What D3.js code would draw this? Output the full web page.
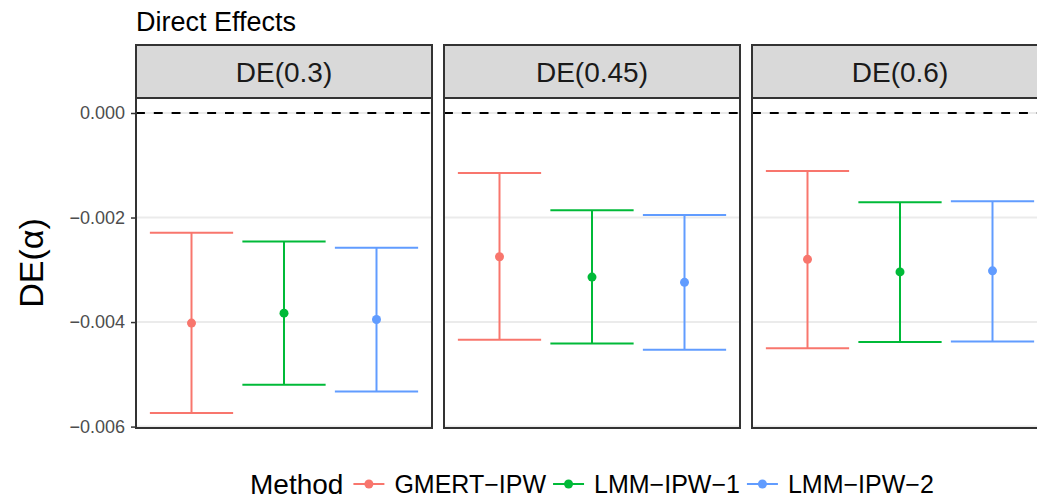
<!DOCTYPE html>
<html>
<head>
<meta charset="utf-8">
<script src="https://cdn.jsdelivr.net/npm/d3@7"></script>
<style>
  body { margin: 0; background: #fff; }
  svg { display: block; font-family: "Liberation Sans", Arial, sans-serif; }
</style>
</head>
<body>
<div id="chart"></div>
<script>
var panels = ["DE(0.3)", "DE(0.45)", "DE(0.6)"],
	methods = ["GMERT\u2212IPW", "LMM\u2212IPW\u22121", "LMM\u2212IPW\u22122"],
	colors = ["#F8766D", "#00BA38", "#619CFF"],
	estimates = [[-0.00402, -0.00383, -0.00395],
	             [-0.00275, -0.00314, -0.00324],
	             [-0.00280, -0.00304, -0.00302]],
	lower = [[-0.00574, -0.00520, -0.00533],
	         [-0.00434, -0.00441, -0.00453],
	         [-0.00450, -0.00438, -0.00437]],
	upper = [[-0.00229, -0.00246, -0.00258],
	         [-0.00115, -0.00186, -0.00195],
	         [-0.00111, -0.00171, -0.00169]],
	yTicks = [0, -0.002, -0.004, -0.006];

var W = 1037, H = 500,
	panelLeft = 136, panelW = 296, panelGap = 12,
	stripTop = 45, stripH = 53,
	panelTop = 98, panelBottom = 428;

var svg = d3.select('#chart').append('svg')
	.attr('width', W)
	.attr('height', H)
	.style('overflow', 'hidden');

svg.append('rect').attr('width', W).attr('height', H).attr('fill', '#fff');

// y scale with ggplot-like 5% expansion, zero line included
var allVals = d3.merge(lower).concat(d3.merge(upper)).concat([0]),
	ext = d3.extent(allVals),
	pad = (ext[1] - ext[0]) * 0.05;

var y = d3.scaleLinear()
	.domain([ext[0] - pad, ext[1] + pad])
	.range([panelBottom, panelTop]);

var x = d3.scaleBand()
	.domain(methods)
	.range([0, panelW])
	.paddingOuter(0.1)
	.paddingInner(0);

var capW = x.bandwidth() * 0.9;
var fmt = d3.format('.3f');

// title
svg.append('text')
	.attr('x', panelLeft)
	.attr('y', 31)
	.attr('font-size', 27)
	.attr('fill', '#000')
	.text('Direct Effects');

// y axis title
svg.append('text')
	.attr('transform', 'translate(43,' + ((panelTop + panelBottom) / 2) + ') rotate(-90)')
	.attr('text-anchor', 'middle')
	.attr('font-size', 34)
	.attr('fill', '#000')
	.text('DE(\u03B1)');

// y axis ticks (left of first panel)
var yAxis = d3.axisLeft(y)
	.tickValues(yTicks)
	.tickSize(5)
	.tickPadding(6)
	.tickFormat(function(d) { return fmt(d); });

var ax = svg.append('g')
	.attr('transform', 'translate(' + panelLeft + ',0)')
	.call(yAxis);
ax.select('.domain').remove();
ax.selectAll('.tick line').attr('stroke', '#333333').attr('stroke-width', 1.5);
ax.selectAll('.tick text')
	.attr('fill', '#4d4d4d')
	.attr('font-size', 18)
	.attr('font-family', '"Liberation Sans", Arial, sans-serif');

panels.forEach(function(p, i) {
	var px = panelLeft + i * (panelW + panelGap);
	var g = svg.append('g').attr('transform', 'translate(' + px + ',0)');

	// strip
	g.append('rect')
		.attr('x', 0).attr('y', stripTop)
		.attr('width', panelW).attr('height', stripH)
		.attr('fill', '#d9d9d9')
		.attr('stroke', '#333333')
		.attr('stroke-width', 2);
	g.append('text')
		.attr('x', panelW / 2)
		.attr('y', stripTop + stripH / 2)
		.attr('dy', '0.36em')
		.attr('text-anchor', 'middle')
		.attr('font-size', 28)
		.attr('fill', '#1a1a1a')
		.text(p);

	// panel background and grid
	g.append('rect')
		.attr('x', 0).attr('y', panelTop)
		.attr('width', panelW).attr('height', panelBottom - panelTop)
		.attr('fill', '#fff');

	g.selectAll('.grid')
		.data(yTicks)
		.enter().append('line')
		.attr('class', 'grid')
		.attr('x1', 0).attr('x2', panelW)
		.attr('y1', function(d) { return y(d); })
		.attr('y2', function(d) { return y(d); })
		.attr('stroke', '#ebebeb')
		.attr('stroke-width', 2);

	// zero reference line
	g.append('line')
		.attr('x1', 0).attr('x2', panelW)
		.attr('y1', y(0)).attr('y2', y(0))
		.attr('stroke', '#000')
		.attr('stroke-width', 2)
		.attr('stroke-dasharray', '8.9,8.9');

	// error bars
	methods.forEach(function(m, j) {
		var cx = x(m) + x.bandwidth() / 2,
			col = colors[j];
		g.append('line')
			.attr('x1', cx).attr('x2', cx)
			.attr('y1', y(lower[i][j])).attr('y2', y(upper[i][j]))
			.attr('stroke', col).attr('stroke-width', 2);
		[lower[i][j], upper[i][j]].forEach(function(v) {
			g.append('line')
				.attr('x1', cx - capW / 2).attr('x2', cx + capW / 2)
				.attr('y1', y(v)).attr('y2', y(v))
				.attr('stroke', col).attr('stroke-width', 2);
		});
		g.append('circle')
			.attr('cx', cx).attr('cy', y(estimates[i][j]))
			.attr('r', 4.5)
			.attr('fill', col);
	});

	// panel border
	g.append('rect')
		.attr('x', 0).attr('y', panelTop)
		.attr('width', panelW).attr('height', panelBottom - panelTop)
		.attr('fill', 'none')
		.attr('stroke', '#333333')
		.attr('stroke-width', 2);
});

// legend
var legY = 484, lx = 250;
var leg = svg.append('g');
var lt = leg.append('text')
	.attr('x', lx).attr('y', legY).attr('dy', '0.34em')
	.attr('font-size', 28)
	.attr('fill', '#000')
	.text('Method');
lx += lt.node().getComputedTextLength() + 10;

methods.forEach(function(m, j) {
	leg.append('line')
		.attr('x1', lx).attr('x2', lx + 31)
		.attr('y1', legY).attr('y2', legY)
		.attr('stroke', colors[j]).attr('stroke-width', 2);
	leg.append('circle')
		.attr('cx', lx + 15.5).attr('cy', legY)
		.attr('r', 4.5).attr('fill', colors[j]);
	lx += 41;
	var t = leg.append('text')
		.attr('x', lx).attr('y', legY).attr('dy', '0.34em')
		.attr('font-size', 25)
		.attr('fill', '#000')
		.text(m);
	lx += t.node().getComputedTextLength() + 7;
});
</script>
</body>
</html>
